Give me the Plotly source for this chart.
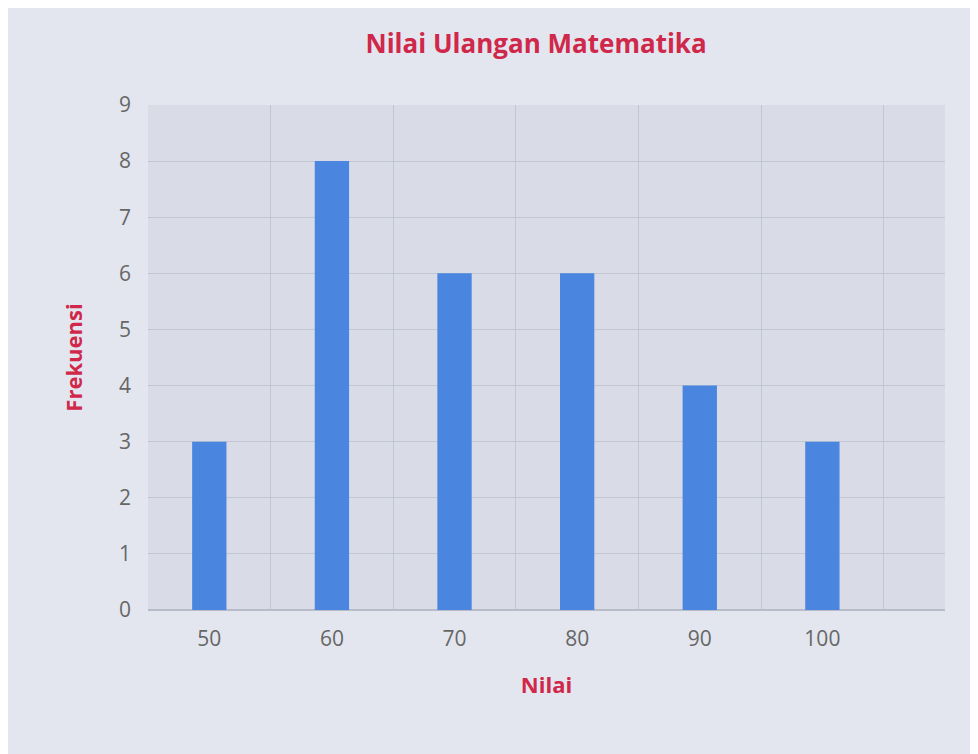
import plotly.graph_objects as go

categories = ["50", "60", "70", "80", "90", "100"]
frequencies = [3, 8, 6, 6, 4, 3]
positions = list(range(len(categories)))

fig = go.Figure(go.Bar(x=positions, y=frequencies, width=0.28,
                       marker=dict(color="#4a86e0", line=dict(width=0))))

fig.update_layout(
    width=978, height=754,
    margin=dict(l=140, r=41, t=97, b=152),
    paper_bgcolor="#e3e6ee", plot_bgcolor="#d9dce6",
    title=dict(text="<b>Nilai Ulangan Matematika</b>", x=0.54, xanchor="center", y=0.965,
               font=dict(family="Open Sans", size=26, color="#d0284a")),
    showlegend=False,
    font=dict(family="Open Sans", color="#666666", size=21),
)
fig.update_xaxes(
    range=[-0.5, 6.0], tickvals=positions, ticktext=categories,
    showgrid=False, zeroline=False, ticks="", ticklabelstandoff=14,
    minor=dict(tick0=0.5, dtick=1, showgrid=True, gridcolor="#c2c6d2", gridwidth=1),
    title=dict(text="<b>Nilai</b>", font=dict(size=22, color="#d0284a"), standoff=26),
)
fig.update_yaxes(
    range=[0, 9], dtick=1, showgrid=True, gridcolor="#c2c6d2", gridwidth=1,
    zeroline=True, zerolinecolor="#b8bcc8", ticks="", ticklabelstandoff=16,
    title=dict(text="<b>Frekuensi</b>", font=dict(size=22, color="#d0284a"), standoff=30),
)
fig.write_html("out.html")
